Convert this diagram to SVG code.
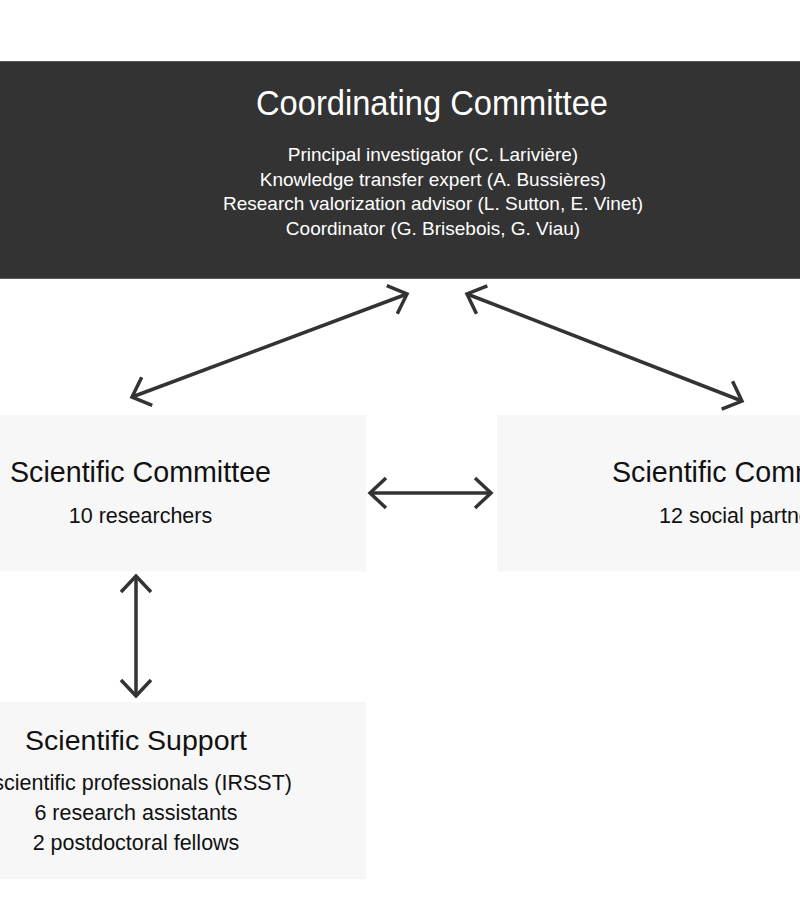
<svg xmlns="http://www.w3.org/2000/svg" width="800" height="918" viewBox="0 0 800 918">
  <style>
    text { font-family: "Liberation Sans", Arial, sans-serif; }
    .dark { fill: #333333; stroke: #5a5a5a; stroke-width: 1; }
    .light { fill: #f7f7f7; }
    .wt { fill: #ffffff; text-anchor: middle; }
    .bt { fill: #111111; text-anchor: middle; }
    .conn { stroke: #333333; stroke-width: 3.5; fill: none; marker-start: url(#chev); marker-end: url(#chev); }
  </style>
  <defs>
    <marker id="chev" markerUnits="userSpaceOnUse" viewBox="-20 -20 24 40" refX="0" refY="0" markerWidth="24" markerHeight="40" orient="auto-start-reverse" overflow="visible">
      <path d="M -16 -15 L 0 0 L -16 15" fill="none" stroke="#333333" stroke-width="3.5" stroke-linecap="butt" stroke-linejoin="miter"/>
    </marker>
  </defs>
  <rect x="0" y="0" width="800" height="918" fill="#ffffff"/>

  <g id="coordinating">
    <rect class="dark" x="-10" y="61.5" width="820" height="217"/>
    <text class="wt" x="432" y="115" font-size="35" textLength="352" lengthAdjust="spacingAndGlyphs">Coordinating Committee</text>
    <text class="wt" x="433" y="161" font-size="19">Principal investigator (C. Larivière)</text>
    <text class="wt" x="433" y="186" font-size="19">Knowledge transfer expert (A. Bussières)</text>
    <text class="wt" x="433" y="210" font-size="19">Research valorization advisor (L. Sutton, E. Vinet)</text>
    <text class="wt" x="433" y="235" font-size="19">Coordinator (G. Brisebois, G. Viau)</text>
  </g>

  <g id="scientific-left">
    <rect class="light" x="-90" y="415" width="456" height="156.5"/>
    <text class="bt" x="140.5" y="482" font-size="29" textLength="261" lengthAdjust="spacingAndGlyphs">Scientific Committee</text>
    <text class="bt" x="140.5" y="523" font-size="21.5">10 researchers</text>
  </g>

  <g id="scientific-right">
    <rect class="light" x="497" y="415" width="400" height="156.5"/>
    <text x="612" y="482" font-size="29" fill="#111111" textLength="261" lengthAdjust="spacingAndGlyphs">Scientific Committee</text>
    <text x="659" y="523" font-size="21.5" fill="#111111">12 social partners</text>
  </g>

  <g id="support">
    <rect class="light" x="-90" y="702" width="456" height="177"/>
    <text class="bt" x="136" y="750" font-size="28.5">Scientific Support</text>
    <text x="292" y="790" font-size="21.5" fill="#111111" text-anchor="end">scientific professionals (IRSST)</text>
    <text class="bt" x="136" y="820" font-size="21.5">6 research assistants</text>
    <text class="bt" x="136" y="850" font-size="21.5">2 postdoctoral fellows</text>
  </g>

  <g id="connectors">
    <line class="conn" x1="132" y1="397" x2="407" y2="294"/>
    <line class="conn" x1="467" y1="294" x2="742" y2="401"/>
    <line class="conn" x1="370" y1="493" x2="491" y2="493"/>
    <line class="conn" x1="136" y1="576" x2="136" y2="696"/>
  </g>
</svg>
